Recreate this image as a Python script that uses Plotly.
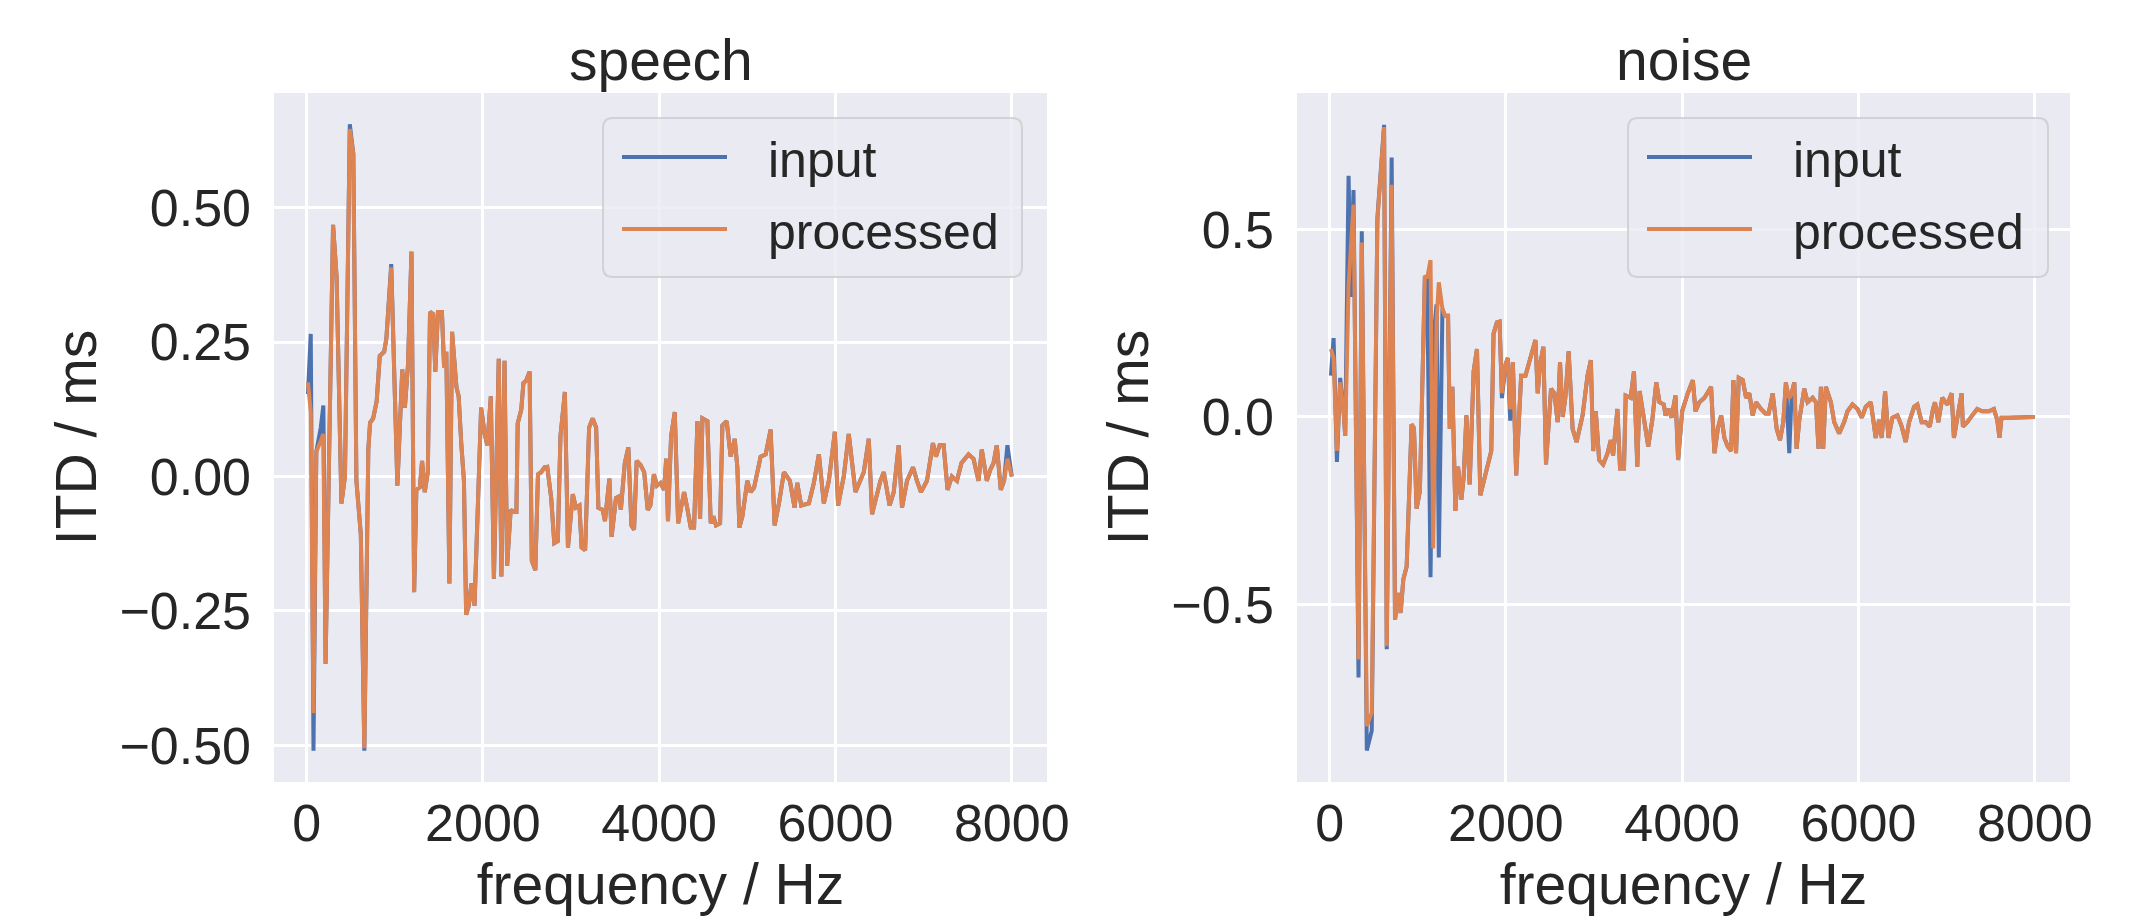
import plotly.graph_objects as go

# ---------------- data ----------------
speech_freq = [15, 47, 78, 110, 160, 190, 215, 300, 340, 395,
               435, 490, 530, 565, 615, 655, 700, 720, 755, 795,
               830, 880, 905, 960, 1030, 1085, 1115, 1150, 1190, 1220,
               1245, 1285, 1310, 1340, 1375, 1400, 1435, 1460, 1490, 1535,
               1560, 1585, 1620, 1650, 1700, 1725, 1755, 1785, 1810, 1840,
               1870, 1905, 1980, 2020, 2050, 2090, 2125, 2180, 2210, 2245,
               2275, 2315, 2350, 2380, 2395, 2435, 2460, 2490, 2530, 2555,
               2595, 2625, 2660, 2700, 2730, 2775, 2810, 2850, 2880, 2930,
               2965, 3020, 3055, 3095, 3120, 3160, 3205, 3245, 3285, 3310,
               3360, 3385, 3435, 3460, 3510, 3545, 3565, 3610, 3650, 3685,
               3715, 3745, 3790, 3830, 3870, 3900, 3940, 3975, 4015, 4055,
               4080, 4100, 4135, 4177, 4215, 4283, 4313, 4358, 4396, 4434,
               4464, 4491, 4547, 4585, 4615, 4645, 4691, 4717, 4766, 4811,
               4857, 4887, 4910, 4944, 5000, 5038, 5076, 5151, 5208, 5264,
               5310, 5359, 5415, 5483, 5536, 5566, 5612, 5698, 5755, 5812,
               5868, 5925, 5993, 6030, 6094, 6151, 6227, 6321, 6378, 6415,
               6510, 6548, 6615, 6661, 6717, 6755, 6812, 6880, 6925, 6970,
               7038, 7106, 7140, 7182, 7227, 7272, 7321, 7378, 7430, 7510,
               7566, 7623, 7660, 7717, 7755, 7793, 7830, 7876, 7913, 7951,
               8000]

speech_processed = [0.175, 0.12, -0.44, 0.046, 0.066, 0.079, -0.348, 0.468, 0.372, -0.05,
                    0.0, 0.646, 0.60, -0.008, -0.108, -0.505, 0.05, 0.10, 0.108, 0.14,
                    0.224, 0.232, 0.257, 0.389, -0.017, 0.199, 0.128, 0.207, 0.418, -0.215,
                    -0.025, -0.02, 0.029, -0.029, 0.008, 0.306, 0.302, 0.195, 0.306, 0.306,
                    0.203, 0.232, -0.199, 0.269, 0.166, 0.149, 0.06, -0.008, -0.257, -0.24,
                    -0.199, -0.24, 0.128, 0.079, 0.058, 0.149, -0.19, 0.219, -0.186, 0.215,
                    -0.166, -0.062, -0.066, -0.066, 0.099, 0.124, 0.174, 0.178, 0.195, -0.157,
                    -0.174, 0.004, 0.008, 0.017, 0.018, -0.04, -0.124, -0.12, 0.075, 0.157,
                    -0.132, -0.033, -0.058, -0.054, -0.132, -0.137, 0.091, 0.108, 0.091, -0.058,
                    -0.062, -0.083, -0.004, -0.112, -0.04, -0.037, -0.062, 0.025, 0.054, -0.091,
                    -0.099, 0.029, 0.021, 0.008, -0.062, -0.054, 0.004, -0.017, -0.012, -0.025,
                    0.033, -0.083, 0.075, 0.12, -0.087, -0.029, -0.054, -0.095, -0.095, 0.103,
                    -0.079, 0.108, 0.103, -0.087, -0.074, -0.091, -0.087, 0.095, 0.103, 0.037,
                    0.07, 0.017, -0.095, -0.074, -0.008, -0.029, -0.021, 0.037, 0.041, 0.087,
                    -0.091, -0.05, 0.008, -0.008, -0.058, -0.012, -0.054, -0.05, -0.012, 0.041,
                    -0.05, -0.008, 0.083, -0.054, 0.0, 0.079, -0.029, 0.008, 0.07, -0.07,
                    -0.008, 0.008, -0.054, -0.029, 0.058, -0.058, -0.008, 0.017, -0.008, -0.029,
                    -0.008, 0.062, 0.037, 0.058, 0.058, -0.025, 0.0, -0.008, 0.025, 0.041,
                    0.033, -0.008, 0.05, -0.008, 0.012, 0.025, 0.058, -0.025, -0.008, 0.033,
                    0.0]

speech_input = [0.153, 0.265, -0.51, 0.046, 0.09, 0.132, -0.348, 0.468, 0.372, -0.05,
                0.0, 0.655, 0.60, -0.008, -0.108, -0.51, 0.05, 0.10, 0.108, 0.14,
                0.224, 0.232, 0.257, 0.395, -0.017, 0.199, 0.128, 0.207, 0.418, -0.215,
                -0.025, -0.02, 0.029, -0.029, 0.008, 0.306, 0.302, 0.195, 0.306, 0.306,
                0.203, 0.232, -0.199, 0.269, 0.166, 0.149, 0.06, -0.008, -0.257, -0.24,
                -0.199, -0.24, 0.128, 0.079, 0.058, 0.149, -0.19, 0.219, -0.186, 0.215,
                -0.166, -0.062, -0.066, -0.066, 0.099, 0.124, 0.174, 0.178, 0.195, -0.157,
                -0.174, 0.004, 0.008, 0.017, 0.018, -0.04, -0.124, -0.12, 0.075, 0.157,
                -0.132, -0.033, -0.058, -0.054, -0.132, -0.137, 0.091, 0.108, 0.091, -0.058,
                -0.062, -0.083, -0.004, -0.112, -0.04, -0.037, -0.062, 0.025, 0.054, -0.091,
                -0.099, 0.029, 0.021, 0.008, -0.062, -0.054, 0.004, -0.017, -0.012, -0.025,
                0.033, -0.083, 0.075, 0.12, -0.087, -0.029, -0.054, -0.095, -0.095, 0.103,
                -0.079, 0.108, 0.103, -0.087, -0.074, -0.091, -0.087, 0.095, 0.103, 0.037,
                0.07, 0.017, -0.095, -0.074, -0.008, -0.029, -0.021, 0.037, 0.041, 0.087,
                -0.091, -0.05, 0.008, -0.008, -0.058, -0.012, -0.054, -0.05, -0.012, 0.041,
                -0.05, -0.008, 0.083, -0.054, 0.0, 0.079, -0.029, 0.008, 0.07, -0.07,
                -0.008, 0.008, -0.054, -0.029, 0.058, -0.058, -0.008, 0.017, -0.008, -0.029,
                -0.008, 0.062, 0.037, 0.058, 0.058, -0.025, 0.0, -0.008, 0.025, 0.041,
                0.033, -0.008, 0.05, -0.008, 0.012, 0.025, 0.058, -0.025, -0.008, 0.058,
                0.0]

noise_freq = [15, 45, 83, 120, 158, 177, 215, 241, 271, 328,
              365, 422, 478, 542, 618, 648, 704, 742, 780, 806,
              836, 874, 930, 957, 987, 1024, 1081, 1107, 1145, 1175,
              1213, 1239, 1280, 1307, 1344, 1363, 1393, 1427, 1457, 1495,
              1521, 1552, 1589, 1634, 1672, 1710, 1759, 1834, 1860, 1898,
              1928, 1955, 1996, 2022, 2049, 2079, 2117, 2173, 2222, 2267,
              2335, 2361, 2388, 2425, 2455, 2512, 2550, 2587, 2614, 2644,
              2674, 2712, 2757, 2802, 2870, 2926, 2964, 2990, 3020, 3058,
              3103, 3152, 3190, 3216, 3265, 3295, 3340, 3359, 3416, 3453,
              3491, 3517, 3547, 3615, 3661, 3706, 3743, 3792, 3811, 3849,
              3879, 3924, 3954, 4000, 4064, 4121, 4151, 4196, 4253, 4328,
              4366, 4404, 4442, 4479, 4517, 4555, 4581, 4611, 4642, 4687,
              4725, 4762, 4800, 4838, 4894, 4944, 4981, 5027, 5072, 5110,
              5147, 5177, 5215, 5242, 5272, 5298, 5329, 5385, 5423, 5480,
              5517, 5547, 5574, 5600, 5630, 5687, 5725, 5781, 5838, 5876,
              5932, 5989, 6038, 6083, 6140, 6196, 6234, 6264, 6302, 6340,
              6385, 6442, 6491, 6536, 6574, 6631, 6668, 6717, 6763, 6808,
              6846, 6868, 6906, 6951, 7008, 7057, 7083, 7132, 7170, 7185,
              7234, 7291, 7347, 7404, 7480, 7536, 7574, 7600, 7623, 7706,
              7781, 7895, 8000]

noise_processed = [0.181, 0.157, -0.091, 0.092, 0.015, -0.05, 0.35, 0.45, 0.566, -0.647,
                   0.465, -0.825, -0.789, 0.524, 0.773, -0.612, 0.619, -0.541, -0.47, -0.523,
                   -0.434, -0.399, -0.02, -0.03, -0.245, -0.198, 0.376, 0.37, 0.418, -0.351,
                   0.252, 0.359, 0.288, 0.27, 0.27, -0.032, 0.08, -0.251, -0.133, -0.221,
                   -0.16, 0.004, -0.18, 0.122, 0.181, -0.209, -0.162, -0.091, 0.222, 0.252,
                   0.254, 0.063, 0.14, 0.157, 0.02, 0.146, -0.156, 0.11, 0.11, 0.146,
                   0.205, 0.063, 0.14, 0.187, -0.127, 0.075, 0.063, -0.014, 0.146, 0.0,
                   0.05, 0.175, -0.032, -0.067, 0.004, 0.11, 0.151, -0.091, 0.015, -0.115,
                   -0.127, -0.098, -0.062, -0.103, 0.021, -0.138, -0.138, 0.057, 0.051, 0.122,
                   -0.133, 0.069, 0.027, -0.079, -0.008, 0.092, 0.039, 0.033, 0.004, 0.021,
                   -0.002, 0.057, -0.115, 0.015, 0.063, 0.098, 0.015, 0.039, 0.051, 0.08,
                   -0.097, -0.032, 0.004, -0.056, -0.079, -0.091, 0.098, -0.097, 0.104, 0.098,
                   0.051, 0.063, 0.004, 0.039, 0.021, 0.009, 0.009, 0.063, -0.032, -0.062,
                   -0.014, 0.092, 0.05, 0.063, 0.092, -0.085, -0.008, 0.075, 0.039, 0.051,
                   0.039, -0.085, 0.08, -0.085, 0.08, 0.039, -0.014, -0.044, -0.014, 0.015,
                   0.033, 0.021, -0.002, 0.027, 0.039, -0.056, -0.008, -0.056, 0.069, -0.056,
                   -0.002, 0.004, -0.026, -0.067, -0.014, 0.027, 0.033, -0.014, -0.014, -0.026,
                   0.021, 0.039, -0.014, 0.051, 0.033, 0.063, -0.056, 0.004, 0.063, -0.026,
                   -0.014, 0.004, 0.021, 0.015, 0.015, 0.021, -0.008, -0.056, -0.002, -0.002,
                   -0.002, -0.002, 0.0]

noise_input = [0.11, 0.21, -0.12, 0.104, 0.015, -0.05, 0.643, 0.32, 0.605, -0.695,
               0.495, -0.89, -0.837, 0.53, 0.779, -0.62, 0.692, -0.541, -0.47, -0.523,
               -0.434, -0.399, -0.02, -0.03, -0.245, -0.198, 0.376, 0.37, -0.428, 0.2,
               0.3, -0.375, 0.288, 0.27, 0.27, -0.032, 0.08, -0.251, -0.133, -0.221,
               -0.16, 0.004, -0.18, 0.122, 0.181, -0.209, -0.162, -0.091, 0.222, 0.252,
               0.254, 0.05, 0.14, 0.157, -0.01, 0.146, -0.156, 0.11, 0.11, 0.146,
               0.205, 0.063, 0.14, 0.187, -0.127, 0.075, 0.063, -0.014, 0.146, 0.0,
               0.05, 0.175, -0.032, -0.067, 0.004, 0.11, 0.151, -0.091, 0.015, -0.115,
               -0.127, -0.098, -0.062, -0.103, 0.021, -0.138, -0.138, 0.057, 0.051, 0.122,
               -0.133, 0.069, 0.027, -0.079, -0.008, 0.092, 0.039, 0.033, 0.004, 0.021,
               -0.002, 0.057, -0.115, 0.015, 0.063, 0.098, 0.015, 0.039, 0.051, 0.08,
               -0.097, -0.032, 0.004, -0.056, -0.079, -0.091, 0.098, -0.097, 0.104, 0.098,
               0.051, 0.063, 0.004, 0.039, 0.021, 0.009, 0.009, 0.063, -0.032, -0.062,
               -0.014, 0.092, -0.097, 0.063, 0.092, -0.085, -0.008, 0.075, 0.039, 0.051,
               0.039, -0.085, 0.08, -0.085, 0.08, 0.039, -0.014, -0.044, -0.014, 0.015,
               0.033, 0.021, -0.002, 0.027, 0.039, -0.056, -0.008, -0.056, 0.069, -0.056,
               -0.002, 0.004, -0.026, -0.067, -0.014, 0.027, 0.033, -0.014, -0.014, -0.026,
               0.021, 0.039, -0.014, 0.051, 0.033, 0.063, -0.056, 0.004, 0.063, -0.026,
               -0.014, 0.004, 0.021, 0.015, 0.015, 0.021, -0.008, -0.056, -0.002, -0.002,
               -0.002, -0.002, 0.0]

panel_titles = ["speech", "noise"]
series_names = ["input", "processed"]
x_tick_vals = [0, 2000, 4000, 6000, 8000]
speech_y_ticks = [-0.5, -0.25, 0.0, 0.25, 0.5]
noise_y_ticks = [-0.5, 0.0, 0.5]
x_label = "frequency / Hz"
y_label = "ITD / ms"

# ---------------- style ----------------
W, H = 2145, 919
BLUE = "#4C72B0"
ORANGE = "#DD8452"
COLORS = [BLUE, ORANGE]
BG = "#EAEAF2"
TXT = "#262626"
FONT = "Liberation Sans, Arial, sans-serif"
TICK_SIZE = 52
LABEL_SIZE = 57
LEGEND_SIZE = 50
LW = 4


def px_x(p):
    return p / W


def px_y(p):
    return 1 - p / H


fig = go.Figure()
panels = [
    (speech_freq, [speech_input, speech_processed], "x", "y"),
    (noise_freq, [noise_input, noise_processed], "x2", "y2"),
]
for fx, series, xa, ya in panels:
    for name, vals, col in zip(series_names, series, COLORS):
        fig.add_trace(go.Scatter(x=fx, y=vals, mode="lines", name=name,
                                 line=dict(color=col, width=LW), xaxis=xa, yaxis=ya,
                                 showlegend=False))

common_x = dict(range=[-370, 8400], tickvals=x_tick_vals, showgrid=True, gridcolor="white",
                gridwidth=3, zeroline=False, showline=False, ticks="",
                tickfont=dict(size=TICK_SIZE, color=TXT, family=FONT),
                title=dict(text=x_label, font=dict(size=LABEL_SIZE, color=TXT, family=FONT), standoff=4),
                automargin=False, ticklabelstandoff=6)
common_y = dict(showgrid=True, gridcolor="white", gridwidth=3, zeroline=False, showline=False,
                ticks="", tickfont=dict(size=TICK_SIZE, color=TXT, family=FONT),
                title=dict(text=y_label, font=dict(size=LABEL_SIZE, color=TXT, family=FONT), standoff=4),
                automargin=False, ticklabelstandoff=22)

ydom = [px_y(782), px_y(93)]
x_domains = [[px_x(274), px_x(1047)], [px_x(1297), px_x(2070)]]
fig.update_layout(
    width=W, height=H,
    margin=dict(l=0, r=0, t=0, b=0),
    paper_bgcolor="white", plot_bgcolor=BG,
    font=dict(family=FONT, color=TXT),
    xaxis=dict(domain=x_domains[0], anchor="y", **common_x),
    yaxis=dict(domain=ydom, anchor="x", range=[-0.568, 0.713], tickvals=speech_y_ticks,
               tickformat=".2f", **common_y),
    xaxis2=dict(domain=x_domains[1], anchor="y2", **common_x),
    yaxis2=dict(domain=ydom, anchor="x2", range=[-0.974, 0.864], tickvals=noise_y_ticks,
                tickformat=".1f", **common_y),
    showlegend=False,
)

# panel titles
for t, xd in zip(panel_titles, x_domains):
    fig.add_annotation(text=t, xref="paper", yref="paper", x=(xd[0] + xd[1]) / 2, y=px_y(60),
                       xanchor="center", yanchor="middle", showarrow=False,
                       font=dict(size=LABEL_SIZE, color=TXT, family=FONT))


# legends (matplotlib-style boxes, long line samples)
def rounded_box(x0, y0, x1, y1, r):
    X = lambda p: f"{px_x(p):.6f}"
    Y = lambda p: f"{px_y(p):.6f}"
    return (f"M {X(x0 + r)},{Y(y0)} L {X(x1 - r)},{Y(y0)} Q {X(x1)},{Y(y0)} {X(x1)},{Y(y0 + r)} "
            f"L {X(x1)},{Y(y1 - r)} Q {X(x1)},{Y(y1)} {X(x1 - r)},{Y(y1)} "
            f"L {X(x0 + r)},{Y(y1)} Q {X(x0)},{Y(y1)} {X(x0)},{Y(y1 - r)} "
            f"L {X(x0)},{Y(y0 + r)} Q {X(x0)},{Y(y0)} {X(x0 + r)},{Y(y0)} Z")


legend_boxes = [(603, 118, 1022, 277), (1628, 118, 2048, 277)]
row_y = [157, 229]
for bx0, by0, bx1, by1 in legend_boxes:
    fig.add_shape(type="path", path=rounded_box(bx0, by0, bx1, by1, 10), xref="paper", yref="paper",
                  fillcolor="rgba(234,234,242,0.8)", line=dict(color="rgba(204,204,204,0.8)", width=2),
                  layer="above")
    for name, col, ry in zip(series_names, COLORS, row_y):
        fig.add_shape(type="line", xref="paper", yref="paper",
                      x0=px_x(bx0 + 19), x1=px_x(bx0 + 124), y0=px_y(ry), y1=px_y(ry),
                      line=dict(color=col, width=LW), layer="above")
        fig.add_annotation(text=name, xref="paper", yref="paper", x=px_x(bx0 + 163), y=px_y(ry + 3),
                           xanchor="left", yanchor="middle", showarrow=False,
                           font=dict(size=LEGEND_SIZE, color=TXT, family=FONT))

fig.write_html("out.html", config={"displayModeBar": False},
               post_script="document.body.style.margin='0px';")
